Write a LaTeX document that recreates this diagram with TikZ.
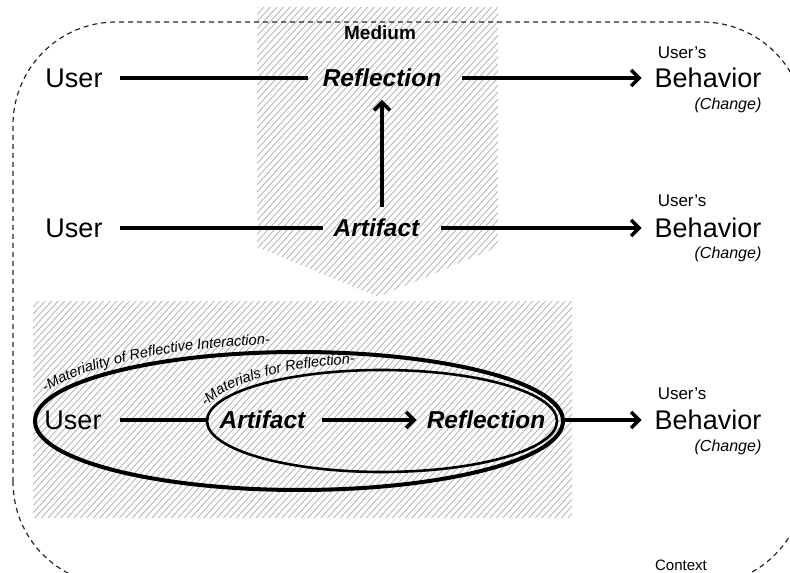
\documentclass[tikz,border=0pt]{standalone}
\usepackage{fontspec}
\setmainfont{Liberation Sans}
\usetikzlibrary{arrows.meta,calc,decorations.text}

\newcommand{\lblfont}{\fontsize{14.5}{14.5}\selectfont\itshape}

\begin{document}
\begin{tikzpicture}[x=1pt,y=1pt,
  big/.style={font=\fontsize{27}{27}\selectfont, inner sep=0pt, text height=19.3pt, text depth=0pt},
  key/.style={font=\fontsize{24.5}{24.5}\selectfont\bfseries\itshape, inner sep=0pt, text height=17.5pt, text depth=0pt},
  owner/.style={font=\fontsize{17}{17}\selectfont, inner sep=0pt},
  chg/.style={font=\fontsize{16}{16}\selectfont\itshape, inner sep=0pt},
  tag/.style={inner sep=0pt},
  conn/.style={line width=3.5pt},
  arr/.style={conn, -{Straight Barb[length=8pt,width=16pt]}},
  hatch/.style={draw=black!28, line width=0.9pt},
  ctx/.style={draw=black!85, line width=1.2pt, dash pattern=on 5pt off 4pt},
  ring/.style={draw=black, line width=4pt},
  innerring/.style={draw=black, line width=2.6pt}
]
\useasboundingbox (0,0) rectangle (790,573);
\clip (0,0) rectangle (790,573);

% hatched medium band, pointing down
\begin{scope}
  \clip (257,566) -- (498,566) -- (498,326) -- (378,276) -- (257,326) -- cycle;
  \foreach \i in {-400,-393.5,...,560} \draw[hatch] (\i,260) -- ++(330,360);
\end{scope}

% hatched field behind the nested rings
\begin{scope}
  \clip (33,271) rectangle (572,55);
  \foreach \i in {-200,-193.5,...,580} \draw[hatch] (\i,40) -- ++(220,240);
\end{scope}

% context frame
\draw[ctx, rounded corners=103pt] (13,-12) rectangle (805,551);

% labels of the regions
\node[tag, font=\fontsize{19}{19}\selectfont\bfseries] (medium) at (380,540) {Medium};
\node[tag, font=\fontsize{15}{15}\selectfont] (context) at (681,8) {Context};

% row 1
\node[big] (user1) at (74,495) {User};
\node[key] (refl1) at (382,495) {Reflection};
\node[big] (beh1) at (708,495) {Behavior};
\node[owner] (own1) at (682,520) {User’s};
\node[chg] (chg1) at (728,468) {(Change)};

% row 2
\node[big] (user2) at (74,345) {User};
\node[key] (art2) at (376.5,345) {Artifact};
\node[big] (beh2) at (708,345) {Behavior};
\node[owner] (own2) at (682,372) {User’s};
\node[chg] (chg2) at (728,319) {(Change)};

% row 3 with nested rings
\draw[ring] (299,152) ellipse[x radius=264, y radius=69];
\draw[innerring] (382,152) ellipse[x radius=175, y radius=51];

\path[decorate, decoration={text along path, text={|\lblfont|-Materiality of Reflective Interaction-}}]
  ($(299,152)+(158:273 and 77)$) arc[start angle=158, end angle=60, x radius=273, y radius=77];
\path[decorate, decoration={text along path, text={|\lblfont|-Materials for Reflection-}}]
  ($(382,152)+(166:181 and 58)$) arc[start angle=166, end angle=60, x radius=181, y radius=58];

\node[big] (user3) at (73,153) {User};
\node[key] (art3) at (262.5,153) {Artifact};
\node[key] (refl3) at (486,153) {Reflection};
\node[big] (beh3) at (708,153) {Behavior};
\node[owner] (own3) at (682,179) {User’s};
\node[chg] (chg3) at (728,126) {(Change)};

% connectors
\draw[conn, shorten <=17.5pt, shorten >=15pt] (user1) -- (refl1);
\draw[arr, shorten <=21pt, shorten >=13pt] (refl1) -- (beh1);
\draw[conn, shorten <=17.5pt, shorten >=10.5pt] (user2) -- (art2);
\draw[arr, shorten <=21.5pt, shorten >=13pt] (art2) -- (beh2);
\draw[arr, shorten <=12pt, shorten >=13pt] (art2.north -| refl1.south) -- (refl1.south);
\draw[conn, shorten <=18.5pt, shorten >=12.5pt] (user3) -- (art3);
\draw[arr, shorten <=16.5pt, shorten >=10pt] (art3) -- (refl3);
\draw[arr, shorten <=20pt, shorten >=13pt] (refl3) -- (beh3);
\end{tikzpicture}
\end{document}
